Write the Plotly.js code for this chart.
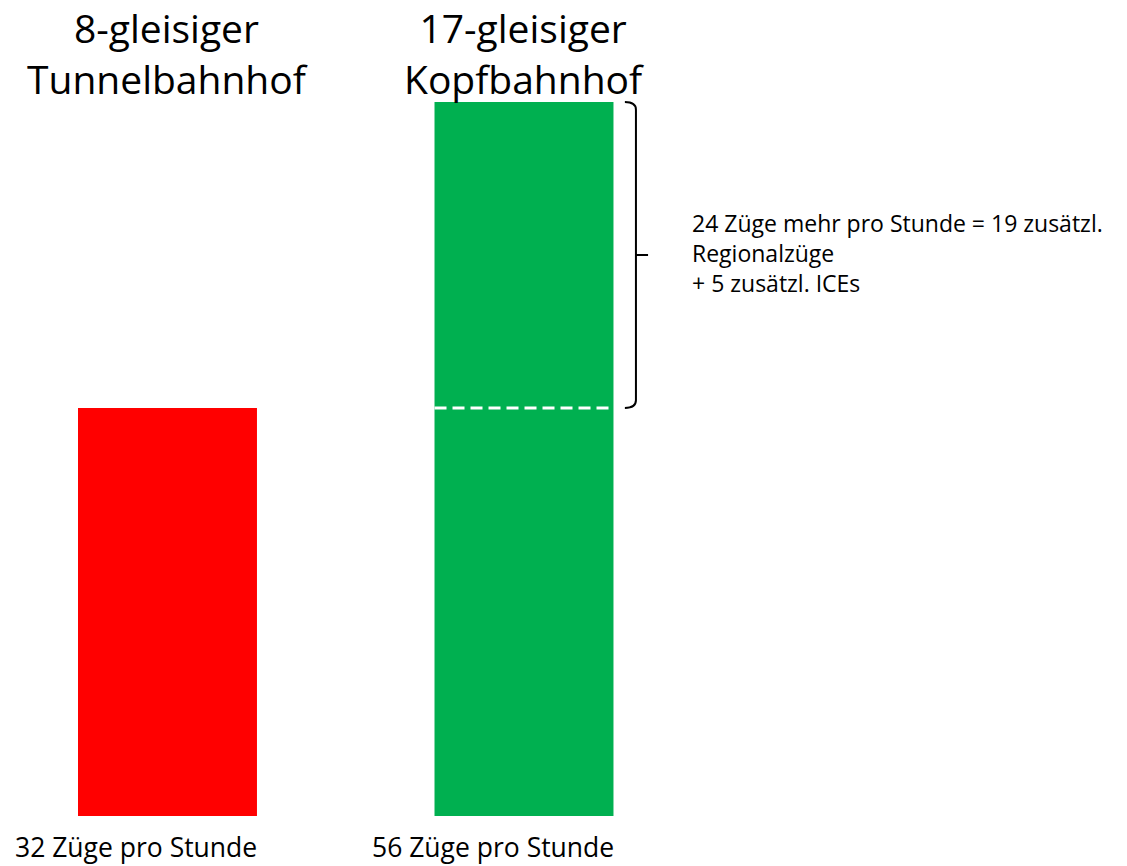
<!DOCTYPE html>
<html>
<head>
<meta charset="utf-8">
<script src="https://cdn.plot.ly/plotly-3.0.1.min.js"></script>
<style>
  html, body { margin: 0; padding: 0; background: #fff; }
  #plot { width: 1127px; height: 866px; }
</style>
</head>
<body>
<div id="plot"></div>
<script>
// Data
let stations = ["8-gleisiger<br>Tunnelbahnhof", "17-gleisiger<br>Kopfbahnhof"]
let trainsPerHour = [32, 56]
let barColors = ["#FF0000", "#00B050"]
let bottomLabels = ["32 Züge pro Stunde", "56 Züge pro Stunde"]
let noteLines = ["24 Züge mehr pro Stunde = 19 zusätzl.", "Regionalzüge", "+ 5 zusätzl. ICEs"]

let fontFamily = "'Open Sans', sans-serif"
let xs = stations.map((s, i) => i)
let barWidth = 0.502

let trace = {
    x: xs,
    y: trainsPerHour,
    type: 'bar',
    width: barWidth,
    marker: {color: barColors, line: {width: 0}},
    hoverinfo: 'skip'
}

// upper part of the head station bar = extra trains
let low = trainsPerHour[0]
let high = trainsPerHour[1]
let mid = (low + high) / 2

let xa = 1.283, xb = 1.314, xc = 1.348
let brace = 'M ' + xa + ',' + high +
    ' Q ' + xb + ',' + high + ' ' + xb + ',' + (high - 0.6) +
    ' L ' + xb + ',' + mid + ' L ' + xc + ',' + mid +
    ' M ' + xb + ',' + mid +
    ' L ' + xb + ',' + (low + 0.6) +
    ' Q ' + xb + ',' + low + ' ' + xa + ',' + low

let shapes = [
    {type: 'line', xref: 'x', yref: 'y', x0: 1 - barWidth / 2, x1: 1 + barWidth / 2,
     y0: low, y1: low, line: {color: '#fff', width: 3, dash: '12px,6px'}},
    {type: 'path', xref: 'x', yref: 'y', path: brace, line: {color: '#000', width: 2}}
]

let annotations = []
for (let i = 0; i < stations.length; i++) {
    annotations.push({
        x: xs[i], y: 1, xref: 'x', yref: 'paper', yanchor: 'middle', yshift: -53,
        text: stations[i], showarrow: false,
        font: {family: fontFamily, size: 39, color: '#000'}
    })
    annotations.push({
        x: xs[i], y: 0, xref: 'x', yref: 'paper', yanchor: 'middle', xshift: -31, yshift: -31,
        text: bottomLabels[i], showarrow: false,
        font: {family: fontFamily, size: 26.5, color: '#000'}
    })
}
annotations.push({
    x: 1.466, y: mid, xref: 'x', yref: 'y', xanchor: 'left', yanchor: 'middle', align: 'left',
    yshift: 2,
    text: noteLines.join('<br>'), showarrow: false,
    font: {family: fontFamily, size: 23, color: '#000'}
})

let layout = {
    width: 1127,
    height: 866,
    margin: {l: 0, r: 0, t: 0, b: 50},
    paper_bgcolor: '#fff',
    plot_bgcolor: '#fff',
    showlegend: false,
    xaxis: {range: [-0.4698, 2.6914], showgrid: false, zeroline: false, showticklabels: false, ticks: ''},
    yaxis: {range: [0, 816 / 12.75], showgrid: false, zeroline: false, showticklabels: false, ticks: ''},
    shapes: shapes,
    annotations: annotations
}

Plotly.newPlot("plot", [trace], layout, {displayModeBar: false, staticPlot: true})
</script>
</body>
</html>
